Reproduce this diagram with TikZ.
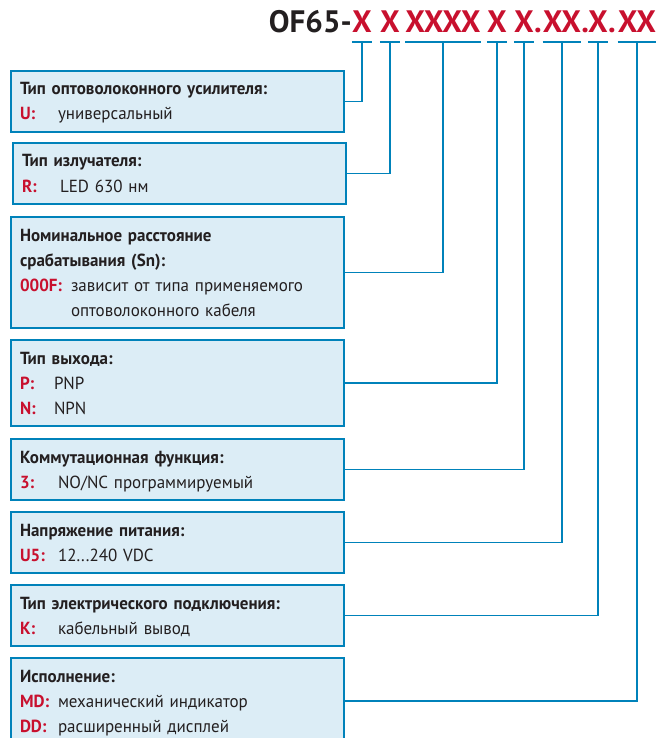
\documentclass[tikz,border=0pt]{standalone}
\usepackage{fontspec}
\setmainfont{PT Sans}
\newfontfamily\boxfont[FakeStretch=0.97]{PT Sans}
\usetikzlibrary{positioning}
\definecolor{lineblue}{HTML}{0082BA}
\definecolor{boxblue}{HTML}{DCEDF6}
\definecolor{codered}{HTML}{C8102E}
\definecolor{ink}{HTML}{231F20}

\newcommand\hd[1]{\rule{0pt}{17pt}\textbf{#1}}
\newcommand\opt[3][38pt]{\makebox[#1][l]{\textcolor{codered}{\bfseries #2}}#3\rule[-5pt]{0pt}{5pt}}

\begin{document}
\begin{tikzpicture}[x=1pt, y=-1pt,
    infobox/.style={draw=lineblue, line width=1.8pt, fill=boxblue, anchor=north west,
      outer sep=0pt, text width=315pt, inner xsep=9pt, inner ysep=7pt, align=left,
      text=ink, font=\boxfont\fontsize{17.5}{25}\selectfont},
    code/.style={anchor=base, inner sep=0pt, text=codered,
      font=\fontsize{31}{31}\selectfont\bfseries},
    link/.style={draw=lineblue, line width=1.8pt}]
\useasboundingbox (0,0) rectangle (657,738);

% type code
\node[code, anchor=base east, text=ink] (series) at (352,33) {OF65-};
\node[code] (c1) at (362,33) {X};
\node[code] (c2) at (390,33) {X};
\node[code] (c3) at (443,33) {XXXX};
\node[code] (c4) at (497,33) {X};
\node[code] (c5) at (524,33) {X};
\node[code, anchor=base west] (d1) at (c5.base east) {.};
\node[code] (c6) at (562,33) {XX};
\node[code, anchor=base west] (d2) at (c6.base east) {.};
\node[code] (c7) at (598,33) {X};
\node[code, anchor=base west] (d3) at (c7.base east) {.};
\node[code] (c8) at (637,33) {XX};

% option boxes
\node[infobox] (b1) at (11,71) {\hd{Тип оптоволоконного усилителя:}\\
  \opt{U:}{универсальный}};
\node[infobox, below=11pt of b1, xshift=2pt] (b2) {\hd{Тип излучателя:}\\
  \opt{R:}{LED 630 нм}};
\node[infobox, below=13pt of b2, xshift=-2pt] (b3) {\hd{Номинальное расстояние}\\
  \textbf{срабатывания (Sn):}\\
  \opt[51pt]{000F:}{зависит от типа применяемого}\\
  \opt[51pt]{}{оптоволоконного кабеля}};
\node[infobox, below=12pt of b3] (b4) {\hd{Тип выхода:}\\
  \opt[34pt]{P:}{PNP}\\
  \opt[34pt]{N:}{NPN}};
\node[infobox, below=13pt of b4] (b5) {\hd{Коммутационная функция:}\\
  \opt{3:}{NO/NC программируемый}};
\node[infobox, below=12pt of b5] (b6) {\hd{Напряжение питания:}\\
  \opt{U5:}{12...240 VDC}};
\node[infobox, below=12pt of b6] (b7) {\hd{Тип электрического подключения:}\\
  \opt{K:}{кабельный вывод}};
\node[infobox, below=12pt of b7] (b8) {\hd{Исполнение:}\\
  \opt{MD:}{механический индикатор}\\
  \opt{DD:}{расширенный дисплей}};

% brackets and leader lines
\foreach \c in {c1,c2,c3,c4,c5,c6,c7,c8}
  \draw[link] ([yshift=-9pt]\c.south west) -- ([yshift=-9pt]\c.south east);
\foreach \b/\c in {b1/c1,b2/c2,b3/c3,b4/c4,b5/c5,b6/c6,b7/c7,b8/c8}
  \draw[link] (\b.east) -| ([yshift=-9pt]\c.south);
\end{tikzpicture}
\end{document}
